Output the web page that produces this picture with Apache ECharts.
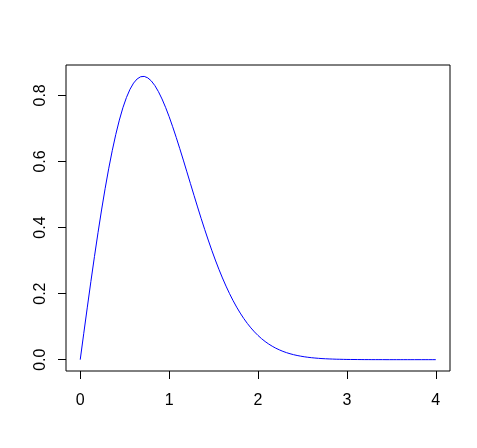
<!DOCTYPE html>
<html>
<head>
<meta charset="utf-8">
<script src="https://cdn.jsdelivr.net/npm/echarts@6/dist/echarts.min.js"></script>
<style>
html,body{margin:0;padding:0;background:#fff;}
#chart{width:477px;height:448px;}
</style>
</head>
<body>
<div id="chart"></div>
<script>
// x positions of the curve points
var xValues = [
0.00,0.04,0.08,0.12,0.16,0.20,0.24,0.28,0.32,0.36,
0.40,0.44,0.48,0.52,0.56,0.60,0.64,0.68,0.72,0.76,
0.80,0.84,0.88,0.92,0.96,1.00,1.04,1.08,1.12,1.16,
1.20,1.24,1.28,1.32,1.36,1.40,1.44,1.48,1.52,1.56,
1.60,1.64,1.68,1.72,1.76,1.80,1.84,1.88,1.92,1.96,
2.00,2.04,2.08,2.12,2.16,2.20,2.24,2.28,2.32,2.36,
2.40,2.44,2.48,2.52,2.56,2.60,2.64,2.68,2.72,2.76,
2.80,2.84,2.88,2.92,2.96,3.00,3.04,3.08,3.12,3.16,
3.20,3.24,3.28,3.32,3.36,3.40,3.44,3.48,3.52,3.56,
3.60,3.64,3.68,3.72,3.76,3.80,3.84,3.88,3.92,3.96,
4.00
];
// density values
var yValues = [
0.0000,0.0799,0.1590,0.2366,0.3119,0.3843,0.4531,0.5178,0.5777,0.6325,
0.6817,0.7251,0.7625,0.7936,0.8185,0.8372,0.8498,0.8565,0.8575,0.8531,
0.8437,0.8296,0.8113,0.7892,0.7639,0.7358,0.7052,0.6728,0.6389,0.6041,
0.5686,0.5330,0.4974,0.4623,0.4278,0.3944,0.3622,0.3312,0.3016,0.2737,
0.2474,0.2227,0.1998,0.1785,0.1590,0.1410,0.1246,0.1097,0.0963,0.0841,
0.0733,0.0636,0.0550,0.0474,0.0407,0.0348,0.0297,0.0252,0.0213,0.0180,
0.0151,0.0127,0.0106,0.0088,0.0073,0.0060,0.0050,0.0041,0.0033,0.0027,
0.0022,0.0018,0.0014,0.0012,0.0009,0.0007,0.0006,0.0005,0.0004,0.0003,
0.0002,0.0002,0.0001,0.0001,0.0001,0.0001,0.0000,0.0000,0.0000,0.0000,
0.0000,0.0000,0.0000,0.0000,0.0000,0.0000,0.0000,0.0000,0.0000,0.0000,
0.0000
];
var xTicks = [0, 1, 2, 3, 4];
var yTicks = [0, 0.2, 0.4, 0.6, 0.8];

var pts = xValues.map(function (x, i) { return [x, yValues[i]]; });

var chart = echarts.init(document.getElementById('chart'), null, {renderer: 'canvas'});
var font = 'Liberation Sans, Arial, sans-serif';
chart.setOption({
  animation: false,
  backgroundColor: '#ffffff',
  grid: {
    left: 66, right: 27, top: 65, bottom: 77,
    show: true, borderColor: '#000', borderWidth: 1, backgroundColor: 'transparent'
  },
  xAxis: {
    type: 'value',
    position: 'bottom',
    min: -0.16, max: 4.16,
    splitLine: {show: false},
    axisLine: {show: false, onZero: false},
    axisTick: {show: true, customValues: xTicks, length: 8, inside: false, lineStyle: {color: '#000', width: 1}},
    axisLabel: {customValues: xTicks, margin: 22, fontSize: 16, fontFamily: font, color: '#000',
      formatter: function (v) { return String(v); }}
  },
  yAxis: {
    type: 'value',
    position: 'left',
    min: -0.0343, max: 0.892,
    splitLine: {show: false},
    axisLine: {show: false, onZero: false},
    axisTick: {show: true, customValues: yTicks, length: 8, inside: false, lineStyle: {color: '#000', width: 1}},
    axisLabel: {customValues: yTicks, margin: 17, rotate: 90, fontSize: 16, fontFamily: font, color: '#000',
      formatter: function (v) { return v.toFixed(1); }}
  },
  series: [{
    type: 'line',
    data: pts,
    showSymbol: false,
    smooth: false,
    lineStyle: {color: '#0000ff', width: 1},
    itemStyle: {color: '#0000ff'}
  }]
});
</script>
</body>
</html>
